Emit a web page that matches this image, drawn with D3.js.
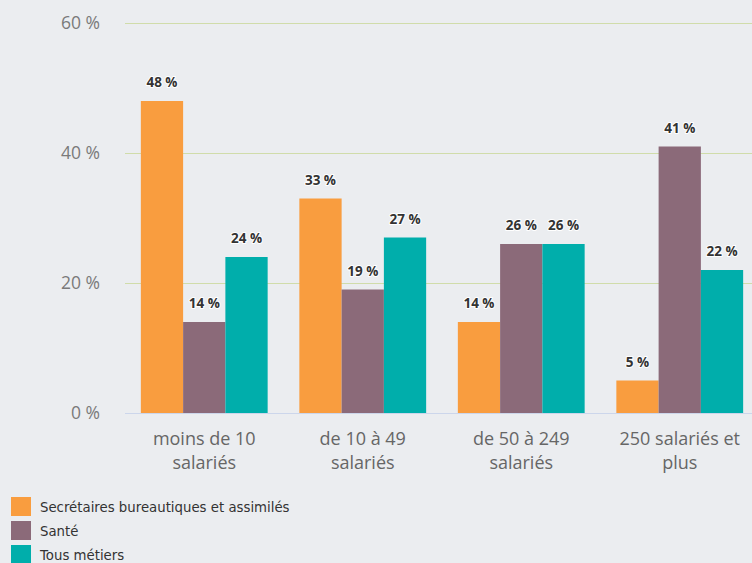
<!DOCTYPE html>
<html>
<head>
<meta charset="utf-8">
<script src="https://cdn.jsdelivr.net/npm/d3@7"></script>
<style>
  body { margin: 0; background: #ebedf0; }
  svg { display: block; }
</style>
</head>
<body>
<div id="chart"></div>
<script>
// data
var categories = [["moins de 10", "salariés"], ["de 10 à 49", "salariés"], ["de 50 à 249", "salariés"], ["250 salariés et", "plus"]];
var seriesNames = ["Secrétaires bureautiques et assimilés", "Santé", "Tous métiers"];
var secretaires = [48, 33, 14, 5];
var sante = [14, 19, 26, 41];
var tousMetiers = [24, 27, 26, 22];
var yTicks = [0, 20, 40, 60];
var colors = ["#f99d3f", "#8b6a79", "#00aeab"];

var series = [secretaires, sante, tousMetiers];

var width = 752, height = 563;
var svg = d3.select("#chart").append("svg")
  .attr("width", width)
  .attr("height", height);

var x0 = d3.scaleBand()
  .domain(d3.range(categories.length))
  .range([125, 759])
  .paddingInner(0.2)
  .paddingOuter(0.1);

var x1 = d3.scaleBand()
  .domain(d3.range(series.length))
  .range([0, x0.bandwidth()]);

var y = d3.scaleLinear()
  .domain([0, 60])
  .range([413, 23]);

// grid lines
svg.append("g").selectAll("line")
  .data(yTicks.filter(function(d) { return d > 0; }))
  .join("line")
  .attr("x1", 125).attr("x2", width)
  .attr("y1", function(d) { return y(d) + 0.5; })
  .attr("y2", function(d) { return y(d) + 0.5; })
  .attr("stroke", "#d0dcaa")
  .attr("stroke-width", 1);

// y labels
svg.append("g").selectAll("text")
  .data(yTicks)
  .join("text")
  .attr("x", 100)
  .attr("y", function(d) { return y(d) + 6; })
  .attr("text-anchor", "end")
  .style("font-family", "'Open Sans', sans-serif")
  .style("font-size", "17.5px")
  .style("fill", "#7a7a7a")
  .text(function(d) { return d + " %"; });

// bars
var groups = svg.append("g").selectAll("g")
  .data(categories)
  .join("g")
  .attr("transform", function(d, i) { return "translate(" + x0(i) + ",0)"; });

series.forEach(function(vals, s) {
  groups.append("rect")
    .attr("x", x1(s))
    .attr("y", function(d, i) { return y(vals[i]); })
    .attr("width", x1.bandwidth())
    .attr("height", function(d, i) { return y(0) - y(vals[i]); })
    .attr("fill", colors[s]);

  groups.append("text")
    .attr("x", x1(s) + x1.bandwidth() / 2)
    .attr("y", function(d, i) { return y(vals[i]) - 14; })
    .attr("text-anchor", "middle")
    .style("font-family", "'Open Sans', sans-serif")
    .style("font-size", "13.5px")
    .style("font-weight", "bold")
    .style("fill", "#333")
    .style("stroke", "#fff")
    .style("stroke-width", "2px")
    .style("stroke-linejoin", "round")
    .style("paint-order", "stroke")
    .text(function(d, i) { return vals[i] + " %"; });
});

// x axis line
svg.append("line")
  .attr("x1", 125).attr("x2", width)
  .attr("y1", 413.5).attr("y2", 413.5)
  .attr("stroke", "#ccd6eb");

// category labels
groups.append("text")
  .attr("x", x0.bandwidth() / 2)
  .attr("y", 445)
  .attr("text-anchor", "middle")
  .style("font-family", "'Open Sans', sans-serif")
  .style("font-size", "18px")
  .style("fill", "#666")
  .selectAll("tspan")
  .data(function(d) { return d; })
  .join("tspan")
  .attr("x", x0.bandwidth() / 2)
  .attr("dy", function(d, i) { return i === 0 ? 0 : 24; })
  .text(function(d) { return d; });

// legend
var legend = svg.append("g").selectAll("g")
  .data(seriesNames)
  .join("g")
  .attr("transform", function(d, i) { return "translate(11," + (497 + i * 24) + ")"; });

legend.append("rect")
  .attr("width", 20).attr("height", 19)
  .attr("fill", function(d, i) { return colors[i]; });

legend.append("text")
  .attr("x", 29)
  .attr("y", 15)
  .style("font-family", "'DejaVu Sans', sans-serif")
  .style("font-size", "13.3px")
  .style("fill", "#333")
  .text(function(d) { return d; });
</script>
</body>
</html>
